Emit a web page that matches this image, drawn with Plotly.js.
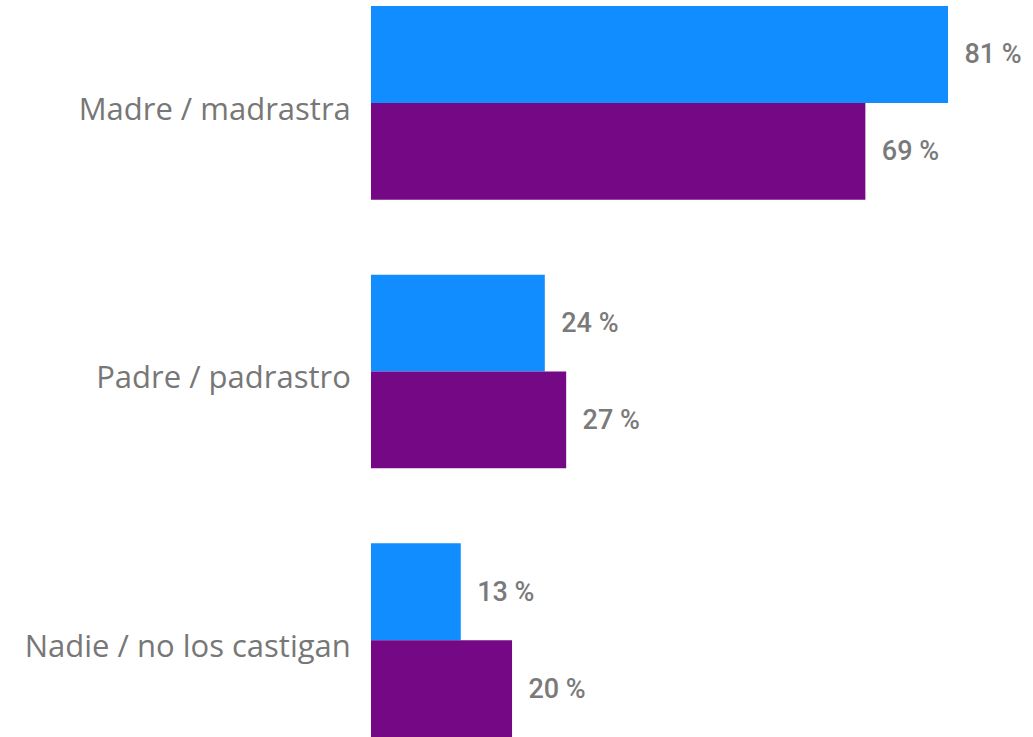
<!DOCTYPE html>
<html>
<head>
<meta charset="utf-8">
<script src="https://cdn.plot.ly/plotly-3.0.1.min.js"></script>
<style>html,body{margin:0;padding:0;background:#fff}#chart{width:1033px;height:737px}</style>
</head>
<body>
<div id="chart"></div>
<script>
const categories = ["Madre / madrastra", "Padre / padrastro", "Nadie / no los castigan"];
const seriesA = [81.0, 24.4, 12.6];
const seriesB = [69.4, 27.4, 19.8];
const seriesNames = ["Serie A", "Serie B"];
const colors = ["#118DFF", "#750985"];

const pad = "\u00a0\u00a0";
function mk(vals, name, color) {
  return {
    type: "bar", orientation: "h",
    y: categories, x: vals, name: name,
    marker: {color: color},
    text: vals.map(v => pad + Math.round(v) + " %"),
    textposition: "outside",
    cliponaxis: false,
    textfont: {family: "Roboto", size: 27, color: "#7a7a7a", weight: 500},
    hoverinfo: "none"
  };
}

const data = [mk(seriesA, seriesNames[0], colors[0]), mk(seriesB, seriesNames[1], colors[1])];
const pxPerUnit = 577 / 81;
const layout = {
  width: 1033, height: 737,
  margin: {l: 371, r: 0, t: 0, b: 0},
  barmode: "group", bargap: 0.279, bargroupgap: 0,
  showlegend: false,
  paper_bgcolor: "#fff", plot_bgcolor: "#fff",
  xaxis: {range: [0, 662 / pxPerUnit], visible: false, fixedrange: true},
  yaxis: {
    type: "category",
    range: [2.3606, -0.383],
    showgrid: false, zeroline: false, showline: false,
    ticks: "outside", ticklen: 13, tickcolor: "rgba(0,0,0,0)",
    ticklabelshift: -6,
    tickfont: {family: "Open Sans", size: 31, color: "#777777"},
    fixedrange: true
  }
};
Plotly.newPlot("chart", data, layout, {displayModeBar: false, staticPlot: true});
</script>
</body>
</html>
